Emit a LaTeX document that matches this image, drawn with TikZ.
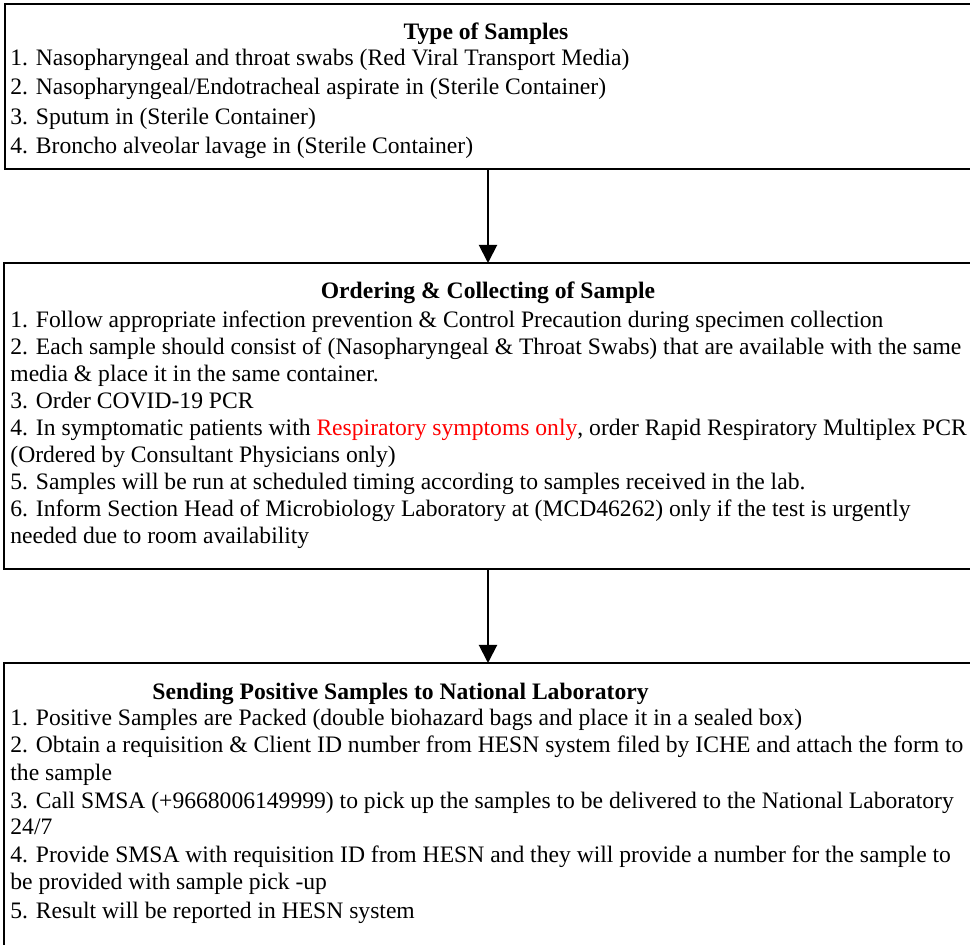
\documentclass[tikz,border=0pt]{standalone}
\usepackage{fontspec}
\setmainfont{Liberation Serif}
\usetikzlibrary{arrows.meta}
\definecolor{alertred}{RGB}{255,0,0}
\begin{document}
\begin{tikzpicture}[x=0.5pt,y=-0.5pt,
  frame/.style={draw=black,line width=1.1pt},
  txt/.style={anchor=base west,inner sep=0pt,font=\fontsize{11.8}{14}\selectfont},
  ttl/.style={anchor=base,inner sep=0pt,font=\fontsize{11.8}{14}\selectfont\bfseries},
  flow/.style={draw=black,line width=1pt,-{Triangle[width=9pt,length=9pt]}}]
\useasboundingbox (0,0) rectangle (970,945);
\clip (0,0) rectangle (970,945);

% frames (they run past the right and bottom edges)
\coordinate (b1nw) at (5,4);   \coordinate (b1se) at (990,169);
\coordinate (b2nw) at (4,263); \coordinate (b2se) at (990,569);
\coordinate (b3nw) at (4,663); \coordinate (b3se) at (990,990);
\draw[frame] (b1nw) rectangle (b1se);
\draw[frame] (b2nw) rectangle (b2se);
\draw[frame] (b3nw) rectangle (b3se);

% connectors
\coordinate (b1s) at (488,169); \coordinate (b2n) at (488,263);
\coordinate (b2s) at (488,569); \coordinate (b3n) at (488,663);
\draw[flow] (b1s) -- (b2n);
\draw[flow] (b2s) -- (b3n);

% box 1
\node[ttl] (t1) at (486,40) {Type of Samples};
\node[txt] (a1) at (10,66) {1. Nasopharyngeal and throat swabs (Red Viral Transport Media)};
\node[txt] (a2) at (10,95) {2. Nasopharyngeal/Endotracheal aspirate in (Sterile Container)};
\node[txt] (a3) at (10,125) {3. Sputum in (Sterile Container)};
\node[txt] (a4) at (10,154) {4. Broncho alveolar lavage in (Sterile Container)};

% box 2
\node[ttl] (t2) at (488,299) {Ordering \& Collecting of Sample};
\node[txt] (c1) at (10,328) {1. Follow appropriate infection prevention \& Control Precaution during specimen collection};
\node[txt] (c2) at (10,355) {2. Each sample should consist of (Nasopharyngeal \& Throat Swabs) that are available with the same};
\node[txt] (c3) at (10,382) {media \& place it in the same container.};
\node[txt] (c4) at (10,409) {3. Order COVID-19 PCR};
\node[txt] (c5) at (10,436) {4. In symptomatic patients with \textcolor{alertred}{Respiratory symptoms only}, order Rapid Respiratory Multiplex PCR};
\node[txt] (c6) at (10,463) {(Ordered by Consultant Physicians only)};
\node[txt] (c7) at (10,490) {5. Samples will be run at scheduled timing according to samples received in the lab.};
\node[txt] (c8) at (10,517) {6. Inform Section Head of Microbiology Laboratory at (MCD46262) only if the test is urgently};
\node[txt] (c9) at (10,544) {needed due to room availability};

% box 3
\node[ttl,anchor=base west] (t3) at (152,700) {Sending Positive Samples to National Laboratory};
\node[txt] (s1) at (10,726) {1. Positive Samples are Packed (double biohazard bags and place it in a sealed box)};
\node[txt] (s2) at (10,753) {2. Obtain a requisition \& Client ID number from HESN system filed by ICHE and attach the form to};
\node[txt] (s3) at (10,781) {the sample};
\node[txt] (s4) at (10,809) {3. Call SMSA (+9668006149999) to pick up the samples to be delivered to the National Laboratory};
\node[txt] (s5) at (10,835) {24/7};
\node[txt] (s6) at (10,863) {4. Provide SMSA with requisition ID from HESN and they will provide a number for the sample to};
\node[txt] (s7) at (10,890) {be provided with sample pick -up};
\node[txt] (s8) at (10,919) {5. Result will be reported in HESN system};
\end{tikzpicture}
\end{document}
